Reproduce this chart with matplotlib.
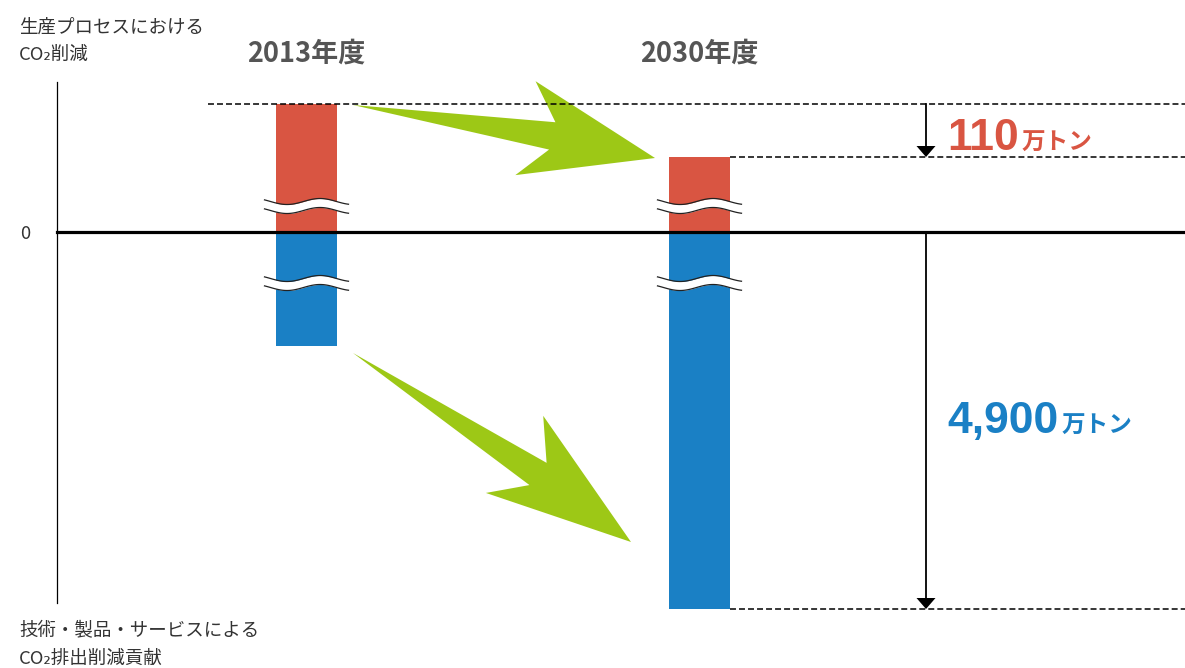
import numpy as np
import matplotlib.pyplot as plt
from matplotlib.patches import Polygon

plt.rcParams['font.family'] = ['Noto Sans CJK JP', 'DejaVu Sans']

# schematic diagram (the value axis has breaks), heights are drawing heights
years = ['2013年度', '2030年度']
process_bar = [128, 75]      # CO2 reduction in production process
product_bar = [-114, -377]   # contribution through technology/products/services
top_label = ['生産プロセスにおける', 'CO₂削減']
bottom_label = ['技術・製品・サービスによる', 'CO₂排出削減貢献']
gain_text = ['110', '4,900']
unit = '万トン'

RED = '#d95542'
BLUE = '#1a80c5'
GREEN = '#9dc816'
GRAY = '#333333'

fig = plt.figure(figsize=(11.85, 6.68), dpi=100)
ax = fig.add_axes([0, 0, 1, 1])
ax.set_xlim(0, 1185)
ax.set_ylim(-436, 232)
ax.axis('off')

xpos = [306.5, 699.5]
w = 61

# bars
ax.bar(xpos, process_bar, width=w, color=RED, zorder=2)
ax.bar(xpos, product_bar, width=w, color=BLUE, zorder=2)

# axes lines
ax.plot([57, 1185], [0, 0], color='black', lw=2.3, zorder=6)
ax.plot([57, 57], [150, -371], color='black', lw=0.9, zorder=6)


def axis_break(xc, yc):
    xs = np.linspace(xc - 42, xc + 42, 120)
    wave = 3 * np.cos(2 * np.pi * (xs - xc - 13.5) / 66)
    ax.fill_between(xs, yc - 4.5 + wave, yc + 4.5 + wave, color='white', lw=0, zorder=3)
    ax.plot(xs, yc + 4.5 + wave, color='#222222', lw=0.9, zorder=4)
    ax.plot(xs, yc - 4.5 + wave, color='#222222', lw=0.9, zorder=4)


for x in xpos:
    axis_break(x, 26)
    axis_break(x, -51)


def big_arrow(tail, tip):
    tail = np.array(tail, float)
    tip = np.array(tip, float)
    d = tip - tail
    L = np.hypot(*d)
    u = d / L
    n = np.array([u[1], -u[0]])
    shape = [(0, 0), (0.66, -18), (0.573, -55), (1, 0), (0.561, 41), (0.655, 10)]
    pts = [tail + s * L * u + t * n for s, t in shape]
    ax.add_patch(Polygon(pts, closed=True, facecolor=GREEN, lw=0, zorder=1))


big_arrow((xpos[0] + w / 2 + 16, process_bar[0] - 1), (xpos[1] - w / 2 - 14, process_bar[1] - 1))
big_arrow((xpos[0] + w / 2 + 16, product_bar[0] - 7), (xpos[1] - w / 2 - 38, product_bar[1] + 67))

# dashed guide lines
dash = (0, (3.9, 2))
ax.plot([208, 1185], [process_bar[0]] * 2, color='black', lw=1.1, ls=dash, zorder=5)
ax.plot([xpos[1] + w / 2, 1185], [process_bar[1]] * 2, color='black', lw=1.1, ls=dash, zorder=5)
ax.plot([xpos[1] + w / 2, 1185], [product_bar[1]] * 2, color='black', lw=1.1, ls=dash, zorder=5)


def down_arrow(x, y0, y1):
    ax.plot([x, x], [y0, y1 + 8], color='black', lw=1.3, zorder=6)
    ax.fill([x - 9.5, x + 9.5, x], [y1 + 11, y1 + 11, y1], color='black', lw=0, zorder=6)


down_arrow(926, process_bar[0], process_bar[1])
down_arrow(926, 0, product_bar[1])

# texts
for x, yr in zip(xpos, years):
    ax.text(x, 178, yr, ha='center', va='center', fontsize=19.5,
            fontweight='bold', color='#555555')

ax.text(19, 204, top_label[0], va='center', fontsize=13.3, color=GRAY)
ax.text(19, 177, top_label[1], va='center', fontsize=13.3, color=GRAY)
ax.text(19, -399, bottom_label[0], va='center', fontsize=13.3, color=GRAY)
ax.text(19, -427, bottom_label[1], va='center', fontsize=13.3, color=GRAY)
ax.text(25, -2, '0', ha='center', va='center', fontsize=13.3, color=GRAY)

fig.canvas.draw()
for txt, y, col in zip(gain_text, [82, -201], [RED, BLUE]):
    t = ax.text(947, y, txt, va='baseline', fontsize=32, fontweight='bold',
                color=col, family='Liberation Sans')
    bb = t.get_window_extent(fig.canvas.get_renderer())
    xr = ax.transData.inverted().transform((bb.x1, bb.y0))[0]
    ax.text(xr + 3, y, unit, va='baseline', fontsize=17, fontweight='bold', color=col)

fig.savefig('out.png', dpi=100)
